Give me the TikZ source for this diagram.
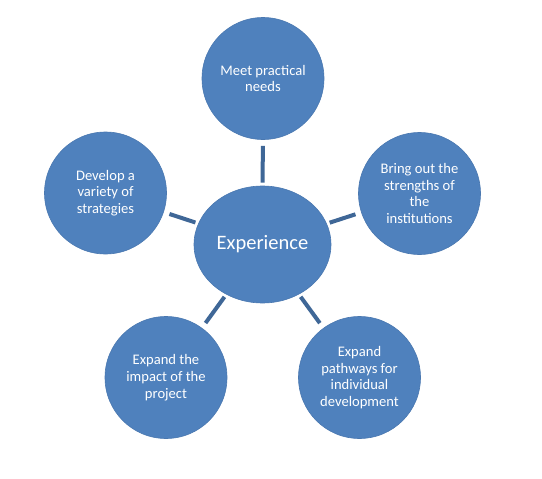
\documentclass[tikz,border=0pt]{standalone}
\usepackage{fontspec}
\setmainfont{Carlito}
\usetikzlibrary{shapes.geometric}
\definecolor{fillblue}{HTML}{4F81BD}
\definecolor{edgeblue}{HTML}{4A78B0}
\definecolor{linkblue}{HTML}{3F6797}
\tikzset{
  bubble/.style={circle, fill=fillblue, draw=edgeblue, line width=0.6pt,
    minimum size=122pt, inner sep=0pt, text=white, align=center,
    font=\fontsize{14.6}{16.7}\selectfont},
  hub/.style={ellipse, fill=fillblue, draw=edgeblue, line width=0.6pt,
    minimum width=137pt, minimum height=117pt, inner sep=0pt, text=white,
    font=\fontsize{20.5}{24}\selectfont},
  link/.style={draw=linkblue, line width=4pt, shorten <=6pt, shorten >=3pt}
}
\begin{document}
\begin{tikzpicture}[x=1pt,y=-1pt]
\useasboundingbox (0,0) rectangle (542,479);
\node[hub] (c) at (262.5,244.5) {Experience};
\node[bubble] (t) at (263,78.5) {Meet practical\\needs};
\node[bubble] (l) at (105.5,193) {Develop a\\variety of\\strategies};
\node[bubble] (r) at (419.5,193.5) {Bring out the\\strengths of\\the\\institutions};
\node[bubble] (bl) at (166,377.5) {Expand the\\impact of the\\project};
\node[bubble] (br) at (359.5,377.5) {Expand\\pathways for\\individual\\development};
\draw[link] (t) -- (c);
\draw[link] (l) -- (c);
\draw[link] (r) -- (c);
\draw[link] (bl) -- (c);
\draw[link] (br) -- (c);
\end{tikzpicture}
\end{document}
